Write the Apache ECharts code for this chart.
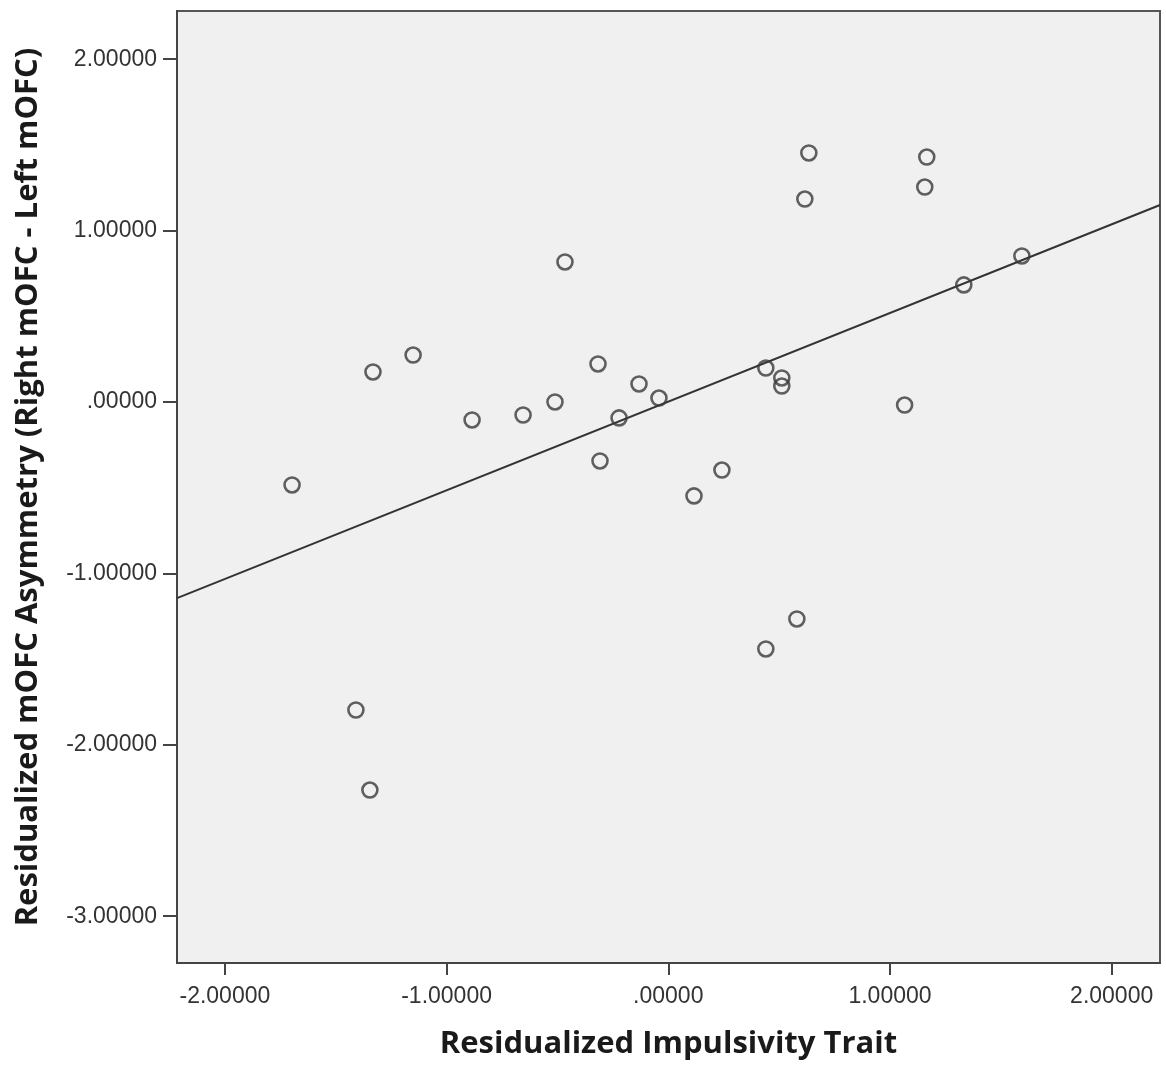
<!DOCTYPE html>
<html>
<head>
<meta charset="utf-8">
<script src="https://cdn.jsdelivr.net/npm/echarts@6/dist/echarts.min.js"></script>
<style>html,body{margin:0;padding:0;background:#fff;}#c{width:1166px;height:1068px;}</style>
</head>
<body>
<div id="c"></div>
<script>
const impulsivity = [-1.697,-1.409,-1.346,-1.332,-1.151,-0.885,-0.655,-0.511,-0.466,-0.317,-0.308,-0.222,-0.132,-0.042,0.116,0.242,0.440,0.440,0.512,0.512,0.580,0.616,0.634,1.066,1.157,1.166,1.333,1.595];
const asymmetry  = [-0.484,-1.797,-2.264,0.175,0.274,-0.105,-0.076,0.000,0.817,0.222,-0.344,-0.093,0.105,0.023,-0.548,-0.397,0.198,-1.441,0.140,0.093,-1.266,1.184,1.453,-0.018,1.254,1.429,0.683,0.852];
const fitLineX = [-2.216, 2.218];
const fitLineY = [-1.144, 1.149];
const xTickValues = [-2,-1,0,1,2];
const xTickLabels = ['-2.00000','-1.00000','.00000','1.00000','2.00000'];
const yTickValues = [-3,-2,-1,0,1,2];
const yTickLabels = ['-3.00000','-2.00000','-1.00000','.00000','1.00000','2.00000'];
const xRange = [-2.216, 2.218];
const yRange = [-3.273, 2.281];

const points = impulsivity.map((x,i)=>[x, asymmetry[i]]);
const linePts = fitLineX.map((x,i)=>[x, fitLineY[i]]);

const chart = echarts.init(document.getElementById('c'), null, {renderer:'canvas'});
const labelFont = {fontFamily:'Liberation Sans, Arial, sans-serif', fontSize:23, color:'#333'};
chart.setOption({
  backgroundColor:'#ffffff',
  animation:false,
  grid:{left:177, right:6, top:11, bottom:105, show:true, backgroundColor:'#f0f0f0', borderColor:'#555', borderWidth:2},
  xAxis:{
    type:'value', min:xRange[0], max:xRange[1],
    name:'Residualized Impulsivity Trait', nameLocation:'middle', nameGap:66,
    nameTextStyle:{fontFamily:'Open Sans, sans-serif', fontWeight:'bold', fontSize:31, color:'#1a1a1a'},
    axisLine:{show:true, onZero:false, lineStyle:{color:'#444', width:2}},
    axisTick:{show:true, length:12, lineStyle:{color:'#444', width:2}, customValues:xTickValues},
    axisLabel:Object.assign({customValues:xTickValues, margin:22, formatter:v=>xTickLabels[xTickValues.indexOf(Math.round(v))]}, labelFont),
    splitLine:{show:false}
  },
  yAxis:{
    type:'value', min:yRange[0], max:yRange[1],
    name:'Residualized mOFC Asymmetry (Right mOFC - Left mOFC)', nameLocation:'middle', nameGap:133,
    nameTextStyle:{fontFamily:'Open Sans, sans-serif', fontWeight:'bold', fontSize:31, color:'#1a1a1a'},
    axisLine:{show:true, onZero:false, lineStyle:{color:'#444', width:2}},
    axisTick:{show:true, length:14, lineStyle:{color:'#444', width:2}, customValues:yTickValues},
    axisLabel:Object.assign({customValues:yTickValues, margin:20, formatter:v=>yTickLabels[yTickValues.indexOf(Math.round(v))]}, labelFont),
    splitLine:{show:false}
  },
  series:[
    {type:'line', data:linePts, symbol:'none', lineStyle:{color:'#333', width:2}, z:2},
    {type:'scatter', data:points, symbol:'circle', symbolSize:15,
     itemStyle:{color:'rgba(0,0,0,0)', borderColor:'#3a3a3a', borderWidth:2.6}, z:3}
  ]
});
</script>
</body>
</html>
